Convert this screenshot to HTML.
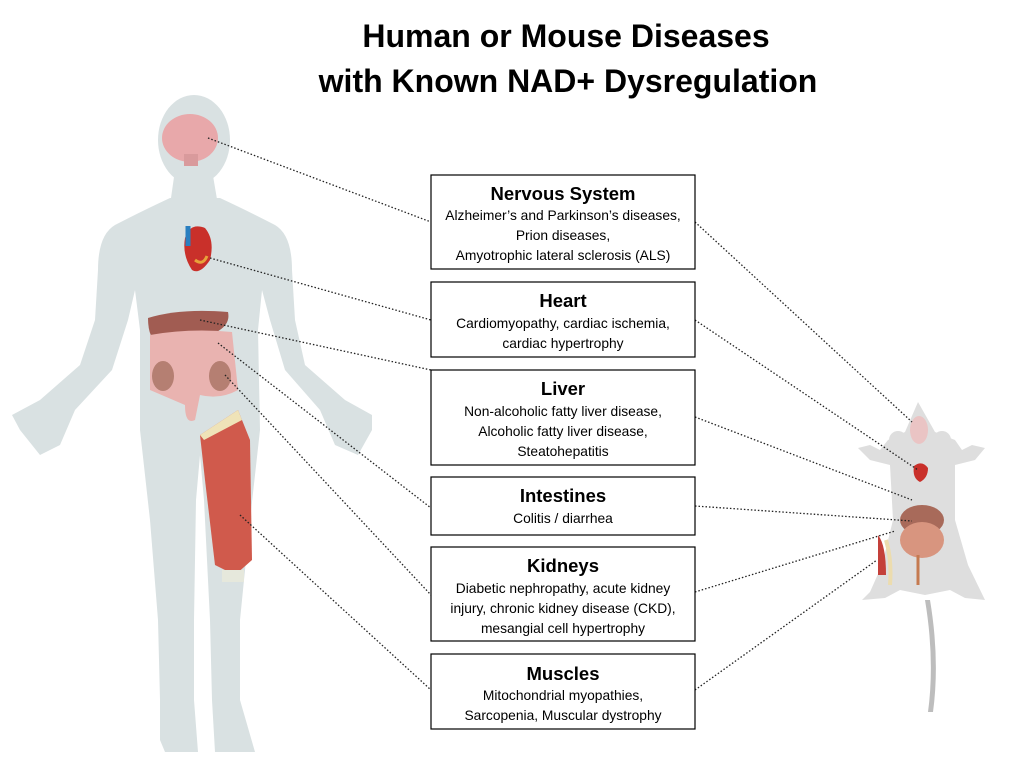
<!DOCTYPE html>
<html><head><meta charset="utf-8"><style>
body{margin:0;background:#fff;width:1024px;height:772px;overflow:hidden;font-family:"Liberation Sans",sans-serif;}
</style></head><body>
<svg width="1024" height="772" viewBox="0 0 1024 772" xmlns="http://www.w3.org/2000/svg">
<text x="566" y="47" text-anchor="middle" font-family="Liberation Sans,sans-serif" font-weight="bold" font-size="32" fill="#000">Human or Mouse Diseases</text>
<text x="568" y="92" text-anchor="middle" font-family="Liberation Sans,sans-serif" font-weight="bold" font-size="32" fill="#000">with Known NAD+ Dysregulation</text>

<!-- human -->
<g fill="#d9e1e2">
<ellipse cx="194" cy="140" rx="36" ry="45"/>
<path d="M175 170 L212 170 L218 205 L170 205 Z"/>
<path d="M170 198 Q140 212 115 225 Q98 235 98 270 L95 320 L80 365 L40 400 L12 415 L20 430 L40 455 L60 445 L75 410 L112 370 L128 320 L135 290 L140 330 L140 430 L150 520 L158 620 L160 700 L160 740 L165 752 L198 752 L194 700 L194 620 L196 500 L200 455 L204 500 L210 620 L212 700 L215 752 L255 752 L240 700 L240 620 L250 520 L260 430 L258 330 L262 290 L270 320 L285 370 L320 410 L335 445 L358 455 L372 430 L372 415 L345 400 L305 365 L295 320 L292 270 Q292 235 275 225 Q250 212 220 198 Z"/>
</g>
<ellipse cx="190" cy="138" rx="28" ry="24" fill="#e8a8aa"/>
<path d="M184 154 h14 v12 h-14z" fill="#d99a9c"/>
<path d="M185 238 Q190 222 205 228 Q215 240 210 260 Q200 275 192 270 Q182 255 185 238Z" fill="#c9302a"/>
<path d="M188 226 v20" stroke="#2a7fc0" stroke-width="5"/>
<path d="M195 260 q8 6 12 -4" stroke="#e8a23a" stroke-width="3" fill="none"/>
<path d="M148 318 Q180 308 228 312 Q232 330 200 338 L160 345 Q148 340 148 318Z" fill="#a15c52"/>
<path d="M150 335 Q190 328 232 332 L238 390 Q220 400 200 395 L195 420 Q185 425 185 405 L150 390 Z" fill="#e9b3b0"/>
<ellipse cx="163" cy="376" rx="11" ry="15" fill="#b57f72"/>
<ellipse cx="220" cy="376" rx="11" ry="15" fill="#b57f72"/>
<path d="M200 435 L238 410 L250 440 L252 560 L235 575 L215 565 L205 480 Z" fill="#d05a4c"/>
<path d="M200 435 L238 410 L242 420 L204 440Z" fill="#efe3b8"/>
<path d="M222 570 h22 v12 h-22z" fill="#e6e8dc"/>

<!-- mouse -->
<path d="M928 712 Q935 660 925 600 L930 600 Q940 660 933 712Z" fill="#bdbdbd"/>
<g fill="#dedede">
<path d="M918 402 L905 432 L888 440 L880 450 L870 445 L858 448 L870 460 L890 465 L893 520 L882 565 L870 592 L862 600 L885 598 L900 590 L925 595 L950 590 L965 598 L985 600 L968 565 L955 520 L955 465 L975 460 L985 448 L972 445 L962 450 L955 440 L935 432 Z"/>
<circle cx="898" cy="440" r="9"/><circle cx="942" cy="440" r="9"/>
</g>
<ellipse cx="919" cy="430" rx="9" ry="14" fill="#eac4c4"/>
<path d="M914 466 q8 -6 14 2 q0 10 -8 14 q-8 -4 -6 -16z" fill="#c9302a"/>
<ellipse cx="922" cy="520" rx="22" ry="15" fill="#a86a5a"/>
<ellipse cx="922" cy="540" rx="22" ry="18" fill="#d8957f"/>
<path d="M878 535 q8 10 8 40 h-8 z" fill="#c4403a"/>
<path d="M886 540 q6 20 4 45" stroke="#ecdcae" stroke-width="4" fill="none"/>
<path d="M918 555 v30" stroke="#c57a50" stroke-width="3"/>

<!-- lines -->
<g stroke="#222" stroke-width="1.3" stroke-dasharray="1.5,2" fill="none">
<line x1="208" y1="138" x2="431" y2="222"/>
<line x1="210" y1="258" x2="431" y2="320"/>
<line x1="200" y1="320" x2="431" y2="370"/>
<line x1="218" y1="343" x2="431" y2="508"/>
<line x1="225" y1="375" x2="431" y2="595"/>
<line x1="240" y1="515" x2="431" y2="690"/>
<line x1="695" y1="222" x2="912" y2="422"/>
<line x1="695" y1="320" x2="918" y2="470"/>
<line x1="695" y1="417" x2="912" y2="500"/>
<line x1="695" y1="506" x2="912" y2="521"/>
<line x1="695" y1="592" x2="895" y2="531"/>
<line x1="695" y1="690" x2="877" y2="560"/>
</g>

<!-- boxes -->
<g fill="#fff" stroke="#000" stroke-width="1.2">
<rect x="431" y="175" width="264" height="94"/>
<rect x="431" y="282" width="264" height="75"/>
<rect x="431" y="370" width="264" height="95"/>
<rect x="431" y="477" width="264" height="58"/>
<rect x="431" y="547" width="264" height="94"/>
<rect x="431" y="654" width="264" height="75"/>
</g>
<g font-family="Liberation Sans,sans-serif" text-anchor="middle" fill="#000">
<text x="563" y="200" font-size="18.5" font-weight="bold">Nervous System</text>
<text x="563" y="220" font-size="13.8">Alzheimer’s and Parkinson’s diseases,</text>
<text x="563" y="240" font-size="13.8">Prion diseases,</text>
<text x="563" y="260" font-size="13.8">Amyotrophic lateral sclerosis (ALS)</text>
<text x="563" y="307" font-size="18.5" font-weight="bold">Heart</text>
<text x="563" y="328" font-size="13.8">Cardiomyopathy, cardiac ischemia,</text>
<text x="563" y="348" font-size="13.8">cardiac hypertrophy</text>
<text x="563" y="395" font-size="18.5" font-weight="bold">Liver</text>
<text x="563" y="416" font-size="13.8">Non-alcoholic fatty liver disease,</text>
<text x="563" y="436" font-size="13.8">Alcoholic fatty liver disease,</text>
<text x="563" y="456" font-size="13.8">Steatohepatitis</text>
<text x="563" y="502" font-size="18.5" font-weight="bold">Intestines</text>
<text x="563" y="523" font-size="13.8">Colitis / diarrhea</text>
<text x="563" y="572" font-size="18.5" font-weight="bold">Kidneys</text>
<text x="563" y="593" font-size="13.8">Diabetic nephropathy, acute kidney</text>
<text x="563" y="613" font-size="13.8">injury, chronic kidney disease (CKD),</text>
<text x="563" y="633" font-size="13.8">mesangial cell hypertrophy</text>
<text x="563" y="680" font-size="18.5" font-weight="bold">Muscles</text>
<text x="563" y="700" font-size="13.8">Mitochondrial myopathies,</text>
<text x="563" y="720" font-size="13.8">Sarcopenia, Muscular dystrophy</text>
</g>
</svg>
</body></html>
